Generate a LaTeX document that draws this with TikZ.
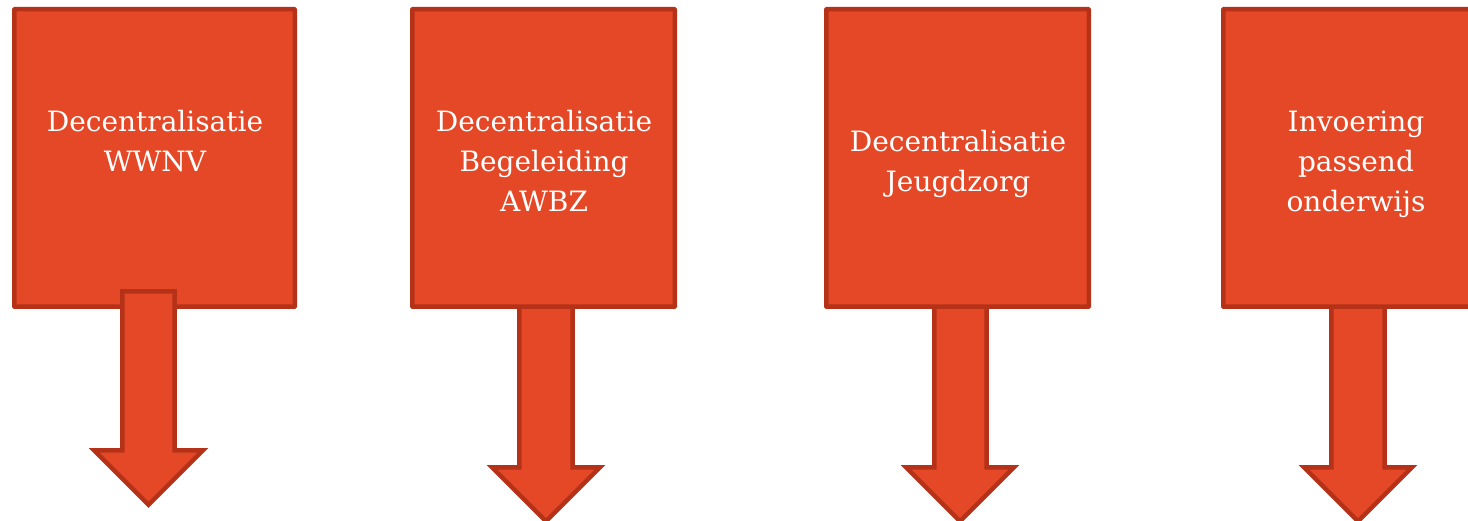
\documentclass[tikz,border=0pt]{standalone}
\usepackage{fontspec}
\setmainfont{DejaVu Serif}
\definecolor{boxfill}{RGB}{229,72,38}
\definecolor{boxline}{RGB}{181,50,25}
\begin{document}
\begin{tikzpicture}[x=1pt,y=-1pt,
  blok/.style={draw=boxline,fill=boxfill,line width=4.5pt,line join=miter,rounded corners=0.5pt},
  pijl/.style={draw=boxline,fill=boxfill,line width=4.5pt,line join=miter},
  lbl/.style={text=white,font=\fontsize{28}{34}\selectfont,anchor=base,inner sep=0pt}]
\useasboundingbox (0,0) rectangle (1468,521);
\clip (0,0) rectangle (1468,521);
% box 1 and arrow on top
\path[blok] (14.25,9.25) rectangle (294.75,306.75);
\coordinate (b1) at (154.5,306.75);
\draw[pijl] (122.3,291.3) -- (174.7,291.3) -- (174.7,450.3) -- (203,450.3) -- (148.5,504.8) -- (94,450.3) -- (122.3,450.3) -- cycle;
\node[lbl] (t1a) at (155,132) {Decentralisatie};
\node[lbl] (t1b) at (155,172) {WWNV};
% arrow 2 then box 2
\draw[pijl] (519.3,300) -- (572.7,300) -- (572.7,467.3) -- (600,467.3) -- (546,521.3) -- (492,467.3) -- (519.3,467.3) -- cycle;
\path[blok] (412.25,9.25) rectangle (674.75,306.75);
\node[lbl] (t2a) at (544,132) {Decentralisatie};
\node[lbl] (t2b) at (544,172) {Begeleiding};
\node[lbl] (t2c) at (544,212) {AWBZ};
% arrow 3 then box 3
\draw[pijl] (934.3,300) -- (986.7,300) -- (986.7,467.3) -- (1014,467.3) -- (960,521.3) -- (906,467.3) -- (934.3,467.3) -- cycle;
\path[blok] (826.25,9.25) rectangle (1088.75,306.75);
\node[lbl] (t3a) at (958,152) {Decentralisatie};
\node[lbl] (t3b) at (958,192) {Jeugdzorg};
% arrow 4 then box 4
\draw[pijl] (1331.3,300) -- (1384.7,300) -- (1384.7,467.3) -- (1412,467.3) -- (1358,521.3) -- (1304,467.3) -- (1331.3,467.3) -- cycle;
\path[blok] (1223.25,9.25) rectangle (1489.75,306.75);
\node[lbl] (t4a) at (1356,132) {Invoering};
\node[lbl] (t4b) at (1356,172) {passend};
\node[lbl] (t4c) at (1356,212) {onderwijs};
\end{tikzpicture}
\end{document}
